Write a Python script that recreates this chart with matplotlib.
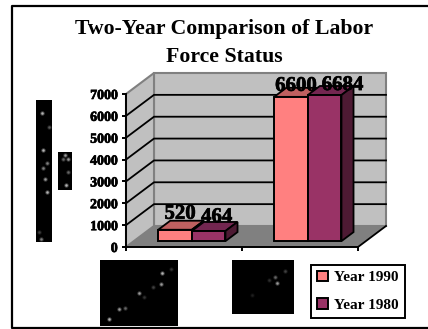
import matplotlib
matplotlib.use("Agg")
import matplotlib.pyplot as plt
import matplotlib.patheffects as pe
from matplotlib.patches import Polygon, Rectangle

plt.rcParams['font.family'] = ['Liberation Serif', 'DejaVu Serif']
plt.rcParams['font.weight'] = 'bold'

# Values
categories = [0.5, 1.5]
year_1990 = [520, 6600]
year_1980 = [464, 6684]
series_names = ["Year 1990", "Year 1980"]
y_ticks = [0, 1000, 2000, 3000, 4000, 5000, 6000, 7000]
x_edges = [0, 1, 2]
title_text = "Two-Year Comparison of Labor\nForce Status"

# Small dark pictures pasted around the chart: box (x0, y0, x1, y1), spots (x, y, brightness)
pictures = [
    ((36, 100, 52, 242), [(42, 113, .7), (49, 127, .35), (43, 150, .7), (47, 163, .5), (43, 168, .5),
                          (45, 179, .6), (47, 192, .7), (41, 239, .5), (39, 232, .25)]),
    ((58, 152, 72, 190), [(65, 155, .6), (68, 159, .6), (63, 159, .4), (68, 172, .4), (66, 185, .7)]),
    ((100, 260, 178, 326), [(109, 319, .7), (119, 309, .6), (125, 308, .4), (139, 293, .6), (144, 297, .2),
                            (153, 287, .25), (161, 284, .6), (162, 273, .7), (171, 269, .2)]),
    ((232, 260, 294, 314), [(275, 277, .4), (277, 283, .6), (285, 271, .25), (252, 295, .12), (269, 280, .18)]),
]

# Colours
pink = "#ff8080"
pink_top = "#bf6060"
purple = "#993366"
purple_top = "#732650"
purple_side = "#4d1a33"
wall = "#c0c0c0"
floor_col = "#808080"

# Depth of the fake 3D box, in data units (28 px right, 21 px up)
DX = 28 / 116
DY = 21 / (153 / 7000)
# Bars sit between these fractions of the depth
D0 = 0.28
D1 = 0.71
bar_w = 0.29

heavy = [pe.withStroke(linewidth=0.5, foreground="black")]


def proj(x, y, d):
    return (x + d * DX, y + d * DY)


fig = plt.figure(figsize=(4.28, 3.29), dpi=100)

# Overlay in pixel coordinates for frame and pictures
bg = fig.add_axes([0, 0, 1, 1], zorder=0)
bg.set_xlim(0, 428)
bg.set_ylim(329, 0)
bg.axis("off")
bg.plot([428, 12, 12, 428], [6, 6, 328, 328], color="black", lw=1.6, clip_on=False)
for box, spots in pictures:
    bg.add_patch(Rectangle((box[0], box[1]), box[2] - box[0], box[3] - box[1], color="black", lw=0))
    for sx, sy, b in spots:
        bg.scatter([sx], [sy], s=10, color=str(b * 0.4), lw=0)
        bg.scatter([sx], [sy], s=3, color=str(b), lw=0)

fig.text(224 / 428, 1 - 43 / 329, title_text, ha="center", va="center", fontsize=15.7,
         fontweight="bold", linespacing=1.5)

ax = fig.add_axes([126 / 428, 1 - 247 / 329, 232 / 428, 153 / 329], zorder=1)
ax.patch.set_alpha(0)
ax.set_xlim(0, 2)
ax.set_ylim(0, 7000)

x0, x1 = x_edges[0], x_edges[-1]
ytop = y_ticks[-1]

# Walls and floor
ax.add_patch(Polygon([proj(x0, 0, 1), proj(x1, 0, 1), proj(x1, ytop, 1), proj(x0, ytop, 1)],
                     fc=wall, ec=floor_col, lw=1.5, clip_on=False, zorder=1))
ax.add_patch(Polygon([proj(x0, 0, 0), proj(x0, 0, 1), proj(x0, ytop, 1), proj(x0, ytop, 0)],
                     fc=wall, ec=floor_col, lw=1.5, clip_on=False, zorder=1))
ax.add_patch(Polygon([proj(x0, 0, 0), proj(x1, 0, 0), proj(x1, 0, 1), proj(x0, 0, 1)],
                     fc=floor_col, ec="none", clip_on=False, zorder=1))

# Gridlines on back and side wall
for v in y_ticks[1:-1]:
    a, b, c = proj(x0, v, 0), proj(x0, v, 1), proj(x1, v, 1)
    ax.plot([a[0], b[0], c[0]], [a[1], b[1], c[1]], color="black", lw=1.3, clip_on=False, zorder=2)

# Floor edge on the right
a, b = proj(x1, 0, 0), proj(x1, 0, 1)
ax.plot([a[0], b[0]], [a[1], b[1]], color="black", lw=1.3, clip_on=False, zorder=2)

# Bars
series = [(year_1990, -bar_w, pink, pink_top), (year_1980, 0, purple, purple_top)]
handles = []
for vals, shift, col, top_col in series:
    for xc, v in zip(categories, vals):
        left = xc + shift
        right = left + bar_w
        # top face
        ax.add_patch(Polygon([proj(left, v, D0), proj(right, v, D0),
                              proj(right, v, D1), proj(left, v, D1)],
                             fc=top_col, ec="black", lw=1.3, clip_on=False, zorder=3))
        # side face
        ax.add_patch(Polygon([proj(right, 0, D0), proj(right, 0, D1),
                              proj(right, v, D1), proj(right, v, D0)],
                             fc=purple_side if shift == 0 else top_col, ec="black", lw=1.3,
                             clip_on=False, zorder=3))
    front = ax.bar([xc + shift + bar_w / 2 + D0 * DX for xc in categories], vals, width=bar_w,
                   bottom=D0 * DY, color=col, edgecolor="black", lw=1.4, zorder=4, clip_on=False)
    handles.append(front)

# Data labels, their offsets from the bar top centre differ in the original
label_offsets = {520: (5, 16), 464: (8, 14), 6600: (5, 11), 6684: (18, 10)}
for vals, shift in [(year_1990, -bar_w), (year_1980, 0)]:
    for xc, v in zip(categories, vals):
        px, py = label_offsets[v]
        ax.annotate(str(v), (xc + shift + bar_w / 2 + D0 * DX, v + D0 * DY),
                    xytext=(px * 0.72, py * 0.72), textcoords="offset points", ha="center", va="center",
                    fontsize=15, fontweight="bold", zorder=6, annotation_clip=False, path_effects=heavy)

# Axes
for s in ["top", "right"]:
    ax.spines[s].set_visible(False)
for s in ["left", "bottom"]:
    ax.spines[s].set_linewidth(1.4)
    ax.spines[s].set_zorder(5)
ax.set_yticks(y_ticks)
ax.set_xticks(x_edges)
ax.set_xticklabels([])
ax.tick_params(axis="y", length=3, width=1.4, pad=3, labelsize=10)
ax.tick_params(axis="x", length=3, width=1.4)
for t in ax.get_yticklabels():
    t.set_fontweight("bold")
    t.set_path_effects(heavy)

leg = fig.legend(handles, series_names, loc="lower left", bbox_to_anchor=(311 / 428, 1 - 318 / 329),
                 bbox_transform=fig.transFigure, fancybox=False, framealpha=1, edgecolor="black",
                 fontsize=11, handlelength=0.7, handleheight=0.7, handletextpad=0.4,
                 labelspacing=0.9, borderpad=0.4, borderaxespad=0)
leg.get_frame().set_linewidth(1.4)
for t in leg.get_texts():
    t.set_fontweight("bold")

fig.savefig("out.png", dpi=100)
